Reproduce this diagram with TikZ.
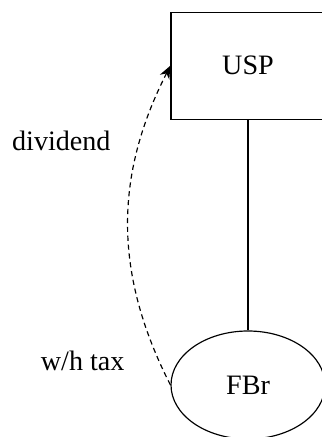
\documentclass[tikz,border=0pt]{standalone}
\usepackage{fontspec}
\setmainfont{Liberation Serif}
\usepackage{tikz}
\usetikzlibrary{positioning,
                arrows.meta,                % arrow tips
                shapes.geometric}           % ellipse

\begin{document}
\begin{tikzpicture}[font=\fontsize{12}{14}\selectfont, line width=0.5pt]
        \useasboundingbox (0,0) rectangle (4.83,6.555);
        \node[draw, rectangle, minimum width=2.31cm, minimum height=1.605cm] (usp) at (3.72,5.57) {USP};
        \node[draw, ellipse, inner sep=0pt, minimum width=2.31cm, minimum height=1.62cm] (fbr) at (3.72,0.78) {FBr};
        \draw (usp.south) -- (fbr.north);

        \draw[dash pattern=on 2.2pt off 1.6pt, -{Stealth[length=5.5pt, width=4.5pt]}]
                (fbr.west) to[bend left=27] (usp.west);
        \node[anchor=base] (div) at (0.92,4.29) {dividend};
        \node[anchor=base] (tax) at (1.24,0.99) {w/h tax};
    \end{tikzpicture}
\end{document}
